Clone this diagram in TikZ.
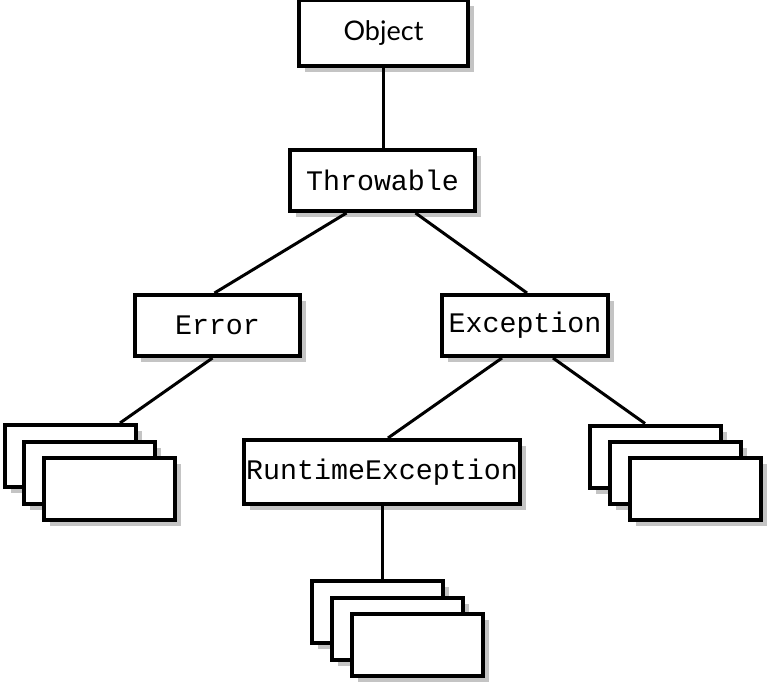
\documentclass[tikz,border=0pt]{standalone}
\usepackage{fontspec}
\setmainfont{Lato}
\newfontfamily\codefont{Liberation Mono}
\usetikzlibrary{shadows}
\definecolor{shadowgray}{HTML}{C4C4C4}
\tikzset{
  box/.style={draw=black, fill=white, line width=4pt, inner sep=0pt,
    drop shadow={shadow xshift=6pt, shadow yshift=-6pt, opacity=1, fill=shadowgray}},
  codebox/.style={box, font=\codefont\fontsize{28.3}{30}\selectfont},
  stackbox/.style={box, minimum width=131pt, minimum height=62pt},
  conn/.style={line width=3pt}
}
\begin{document}
\begin{tikzpicture}[x=1pt,y=-1pt]
\useasboundingbox (0,0) rectangle (770,687);
\node[box, minimum width=169pt, minimum height=66pt, font=\fontsize{27}{30}\selectfont] (obj) at (383.5,33) {Object};
\node[codebox, minimum width=185pt, minimum height=61pt] (thr) at (382.5,180.5) {Throwable};
\node[codebox, minimum width=165pt, minimum height=61pt] (err) at (217.5,325.5) {Error};
\node[codebox, minimum width=166pt, minimum height=61pt] (exc) at (525,325.5) {Exception};
\node[codebox, minimum width=276pt, minimum height=64pt] (rt) at (382,472) {RuntimeException};
% left stack
\node[stackbox] (l1) at (70,456) {};
\node[stackbox] (l2) at (89.5,472.5) {};
\node[stackbox] (l3) at (109,489) {};
% right stack
\node[stackbox] (r1) at (655,456.5) {};
\node[stackbox] (r2) at (675,472.5) {};
\node[stackbox] (r3) at (695,489) {};
% bottom stack
\node[stackbox] (b1) at (377,612) {};
\node[stackbox] (b2) at (397.5,628.5) {};
\node[stackbox] (b3) at (417.5,645) {};
% connectors
\draw[conn] (obj.south) -- (obj.south |- thr.north);
\draw[conn] ([xshift=-36pt]thr.south) -- ([xshift=-3pt]err.north);
\draw[conn] ([xshift=33pt]thr.south) -- ([xshift=2pt]exc.north);
\draw[conn] ([xshift=-5pt]err.south) -- ([xshift=50pt]l1.north);
\draw[conn] ([xshift=-23pt]exc.south) -- ([xshift=6pt]rt.north);
\draw[conn] ([xshift=28pt]exc.south) -- ([xshift=-10pt]r1.north);
\draw[conn] (rt.south) -- (rt.south |- b1.north);
\end{tikzpicture}
\end{document}
